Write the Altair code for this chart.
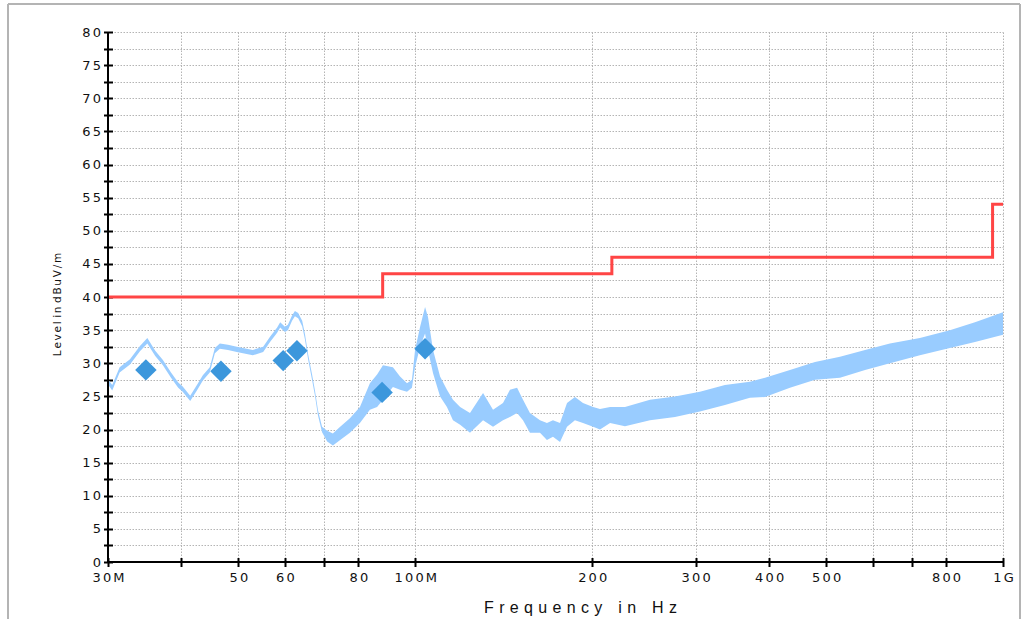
import altair as alt
import pandas as pd

# ---- measured trace (envelope of the noisy spectrum), MHz / dBuV/m ----
FREQ_MHZ = [30.0, 30.5, 31.4, 32.7, 34.0, 35.0, 36.1, 37.2, 38.4, 39.5, 40.2, 41.4,
            42.5, 43.5, 44.7, 45.6, 46.5, 48.0, 49.7, 52.9, 55.1, 56.6, 58.2, 58.9,
            60.0, 60.7, 61.7, 62.4, 63.2, 64.2, 64.9, 65.7, 66.7, 67.5, 68.3, 69.4,
            70.8, 72.4, 74.5, 77.4, 80.5, 83.7, 86.1, 88.1, 91.6, 94.2, 96.8, 98.7,
            99.9, 101.9, 103.9, 105.1, 107.2, 110.2, 113.2, 115.9, 119.2, 123.9, 130.4,
            135.6, 141.0, 144.9, 149.0, 152.5, 156.7, 163.0, 167.5, 171.5, 176.3, 181.2,
            186.9, 192.9, 200.7, 206.2, 214.5, 227.4, 250.8, 276.6, 305.0, 336.4, 371.0,
            393.6, 434.0, 478.8, 528.0, 582.5, 642.0, 722.0, 812.0, 896.0, 1000.0]
LEVEL_LO = [26.8, 25.9, 28.6, 29.8, 31.8, 33.0, 31.1, 29.7, 27.8, 26.3, 25.7, 24.3,
            25.9, 27.4, 28.6, 31.5, 32.2, 32.0, 31.7, 31.2, 31.7, 33.2, 34.6, 35.4,
            34.7, 35.0, 36.4, 37.1, 36.8, 35.6, 33.6, 30.6, 27.6, 25.1, 22.1, 19.6,
            18.2, 17.6, 18.4, 19.5, 21.0, 23.0, 23.4, 24.5, 26.4, 26.0, 25.7, 26.3,
            29.4, 32.5, 34.5, 32.0, 28.5, 25.0, 23.4, 21.4, 20.7, 19.5, 21.4,
            20.4, 21.4, 21.9, 22.5, 21.4, 19.5, 19.5, 18.4, 18.9, 18.1, 20.4,
            21.4, 21.0, 20.4, 20.0, 21.0, 20.5, 21.4, 21.9, 22.7, 23.7, 24.8,
            24.9, 26.3, 27.5, 27.8, 29.0, 30.0, 31.2, 32.3, 33.2, 34.3]
LEVEL_HI = [27.6, 26.7, 29.4, 30.6, 32.6, 33.8, 31.9, 30.5, 28.6, 27.1, 26.5, 25.1,
            26.7, 28.2, 29.4, 32.3, 33.0, 32.8, 32.5, 32.0, 32.5, 34.0, 35.4, 36.2,
            35.5, 35.8, 37.2, 37.9, 37.6, 36.4, 34.4, 31.4, 28.4, 25.9, 22.9, 20.4,
            19.8, 19.4, 20.4, 21.7, 23.4, 27.0, 28.3, 29.7, 29.4, 28.0, 27.0, 27.5,
            32.0, 35.5, 38.5, 37.0, 32.0, 28.0, 26.0, 24.5, 23.4, 22.5, 25.5,
            23.0, 24.0, 26.0, 26.3, 24.5, 22.5, 21.4, 21.0, 21.4, 21.0, 24.0,
            24.9, 24.0, 23.4, 23.1, 23.4, 23.4, 24.5, 25.0, 25.7, 26.7, 27.2,
            27.8, 29.0, 30.2, 31.0, 32.0, 33.0, 33.8, 35.0, 36.2, 37.7]

# ---- final measurement markers ----
MARK_F = [34.8, 46.7, 59.6, 62.9, 87.8, 103.9]
MARK_DB = [29.0, 28.8, 30.4, 31.9, 25.6, 32.2]

# ---- limit line ----
LIMIT_F = [30, 88, 216, 960, 1000]
LIMIT_DB = [40, 43.5, 46, 54, 54]

# ---- axis ticks ----
X_TICKS = [30, 40, 50, 60, 70, 80, 100, 200, 300, 400, 500, 600, 700, 800, 1000]
Y_TICKS = [i * 2.5 for i in range(33)]

W, H = 895, 530
FONT = "Liberation Sans"
LFONT = "DejaVu Sans"
SP = "\u2006"      # narrow letter gap
TSP = "\u2004"     # title letter gap

x_title = TSP.join("Frequency") + TSP * 3 + TSP.join("in") + TSP * 3 + TSP.join("Hz")
y_title = SP.join("Level") + TSP + SP.join("in") + TSP + SP.join("dBuV/m")

trace = pd.DataFrame({"f": FREQ_MHZ, "lo": LEVEL_LO, "hi": LEVEL_HI})
marks = pd.DataFrame({"f": MARK_F, "lo": MARK_DB})
limit = pd.DataFrame({"f": LIMIT_F, "lo": LIMIT_DB})

xscale = alt.Scale(type="log", domain=[30, 1000], nice=False)
yscale = alt.Scale(domain=[0, 80], nice=False, zero=False)

x_label_expr = ("join(split(datum.value == 30 ? '30M' : datum.value == 100 ? '100M' : "
                "datum.value == 1000 ? '1G' : (datum.value == 40 || datum.value == 70 || "
                "datum.value == 600 || datum.value == 700) ? '' : '' + datum.value, ''), '"
                + SP + "')")
y_label_expr = ("datum.value % 5 == 0 ? join(split('' + datum.value, ''), '" + SP + "') : ''")

x_axis = alt.Axis(values=X_TICKS, tickCount=200, labelExpr=x_label_expr, grid=True,
                  domain=False, offset=-4.5, tickSize=9, tickWidth=2, tickColor="black",
                  labelPadding=5, labelFont=LFONT, labelFontSize=13, labelColor="#111",
                  labelFlush=False, labelOverlap=False,
                  gridColor="#b4b4b4", gridDash=[1.5, 1.5], gridWidth=1,
                  title=x_title, titleFont=FONT,
                  titleFontSize=16, titleFontWeight="normal", titleColor="#111",
                  titleX=472, titleY=50, titleBaseline="middle", titleAlign="center")
y_axis = alt.Axis(values=Y_TICKS, tickCount=200, labelExpr=y_label_expr,
                  grid=True, domain=False, offset=-4.5, tickSize=9, tickWidth=2,
                  tickColor="black", labelPadding=3, labelFont=LFONT, labelFontSize=13,
                  labelColor="#111", labelFlush=False, labelOverlap=False,
                  gridColor="#b4b4b4", gridDash=[1.5, 1.5], gridWidth=1,
                  title=y_title, titleFont=LFONT, titleFontSize=10.5,
                  titleFontWeight="normal", titleColor="#111",
                  titleX=-55, titleY=272, titleAngle=-90, titleAlign="center",
                  titleBaseline="middle")

area = alt.Chart(trace).mark_area(color="#99ccff", opacity=1, strokeWidth=0).encode(
    x=alt.X("f:Q", scale=xscale, axis=x_axis),
    y=alt.Y("lo:Q", scale=yscale, axis=y_axis),
    y2="hi:Q",
)

limit_line = alt.Chart(limit).mark_line(color="#ff4545", strokeWidth=3,
                                        interpolate="step-after").encode(
    x=alt.X("f:Q", scale=xscale),
    y=alt.Y("lo:Q", scale=yscale),
)

points = alt.Chart(marks).mark_point(shape="diamond", filled=True, size=460,
                                     color="#3c97dc", opacity=1).encode(
    x=alt.X("f:Q", scale=xscale),
    y=alt.Y("lo:Q", scale=yscale),
)

# axis lines
y_line = alt.Chart().mark_rule(color="black", strokeWidth=2).encode(
    x=alt.value(0), y=alt.value(0), y2=alt.value(H + 1))
x_line = alt.Chart().mark_rule(color="black", strokeWidth=2).encode(
    x=alt.value(-1), x2=alt.value(W), y=alt.value(H))

# outer frame
frame_col = "#b4b4b4"
f_left = alt.Chart().mark_rule(color=frame_col, strokeWidth=2).encode(
    x=alt.value(-100), y=alt.value(-28), y2=alt.value(600))
f_top = alt.Chart().mark_rule(color=frame_col, strokeWidth=2).encode(
    x=alt.value(-100), x2=alt.value(912), y=alt.value(-28))
f_right = alt.Chart().mark_rule(color=frame_col, strokeWidth=2).encode(
    x=alt.value(912), y=alt.value(-28), y2=alt.value(600))

chart = alt.layer(area, limit_line, points, y_line, x_line, f_left, f_top, f_right).properties(
    width=W, height=H,
    autosize=alt.AutoSizeParams(type="none"),
    padding={"left": 108, "top": 32, "right": 29, "bottom": 57},
    background="white",
).configure_view(stroke=None)

chart.save("out.html", embed_options={"renderer": "svg", "actions": False})
